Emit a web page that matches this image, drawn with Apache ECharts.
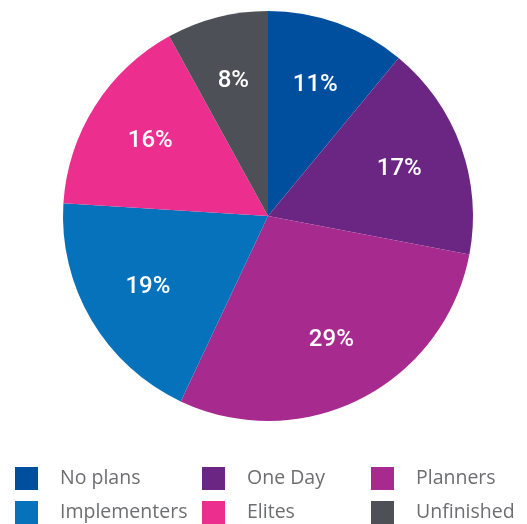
<!DOCTYPE html>
<html>
<head>
<meta charset="utf-8">
<script src="https://cdn.jsdelivr.net/npm/echarts@6/dist/echarts.min.js"></script>
<style>html,body{margin:0;padding:0;background:#fff}#c{width:527px;height:524px}</style>
</head>
<body>
<div id="c"></div>
<script>
const categories = ['No plans', 'One Day', 'Planners', 'Implementers', 'Elites', 'Unfinished'];
const values = [11, 17, 29, 19, 16, 8];
const colors = ['#004f9f', '#6b2683', '#a72a8e', '#0672bb', '#ec2e8e', '#4d5056'];
const legendColumns = [['No plans', 'Implementers'], ['One Day', 'Elites'], ['Planners', 'Unfinished']];

const data = categories.map((n, i) => ({ name: n, value: values[i], itemStyle: { color: colors[i] } }));
const chart = echarts.init(document.getElementById('c'), null, { renderer: 'canvas' });
const legendLeft = [15, 202, 371];
chart.setOption({
  animation: false,
  legend: legendColumns.map((col, i) => ({
    data: col,
    orient: 'vertical',
    left: legendLeft[i],
    top: 467,
    padding: 0,
    itemWidth: 23,
    itemHeight: 23,
    itemGap: 11,
    icon: 'rect',
    selectedMode: false,
    textStyle: { fontFamily: 'Open Sans', fontSize: 19.5, color: '#6d6e71', padding: [0, 0, 0, 17] }
  })),
  series: [
    {
      type: 'pie',
      center: [268, 216],
      radius: [0, 205],
      startAngle: 90,
      data: data,
      label: { show: false },
      labelLine: { show: false },
      itemStyle: { borderWidth: 0 },
      emphasis: { disabled: true }
    },
    {
      type: 'pie',
      center: [268, 216],
      radius: [68, 205],
      startAngle: 90,
      silent: true,
      legendHoverLink: false,
      data: categories.map((n, i) => ({ name: n, value: values[i] })),
      itemStyle: { color: 'rgba(0,0,0,0)', borderWidth: 0 },
      label: {
        show: true,
        position: 'inside',
        formatter: '{c}%',
        color: '#ffffff',
        fontFamily: 'Roboto',
        fontWeight: 500,
        fontSize: 24
      },
      labelLine: { show: false },
      emphasis: { disabled: true }
    }
  ]
});
</script>
</body>
</html>
